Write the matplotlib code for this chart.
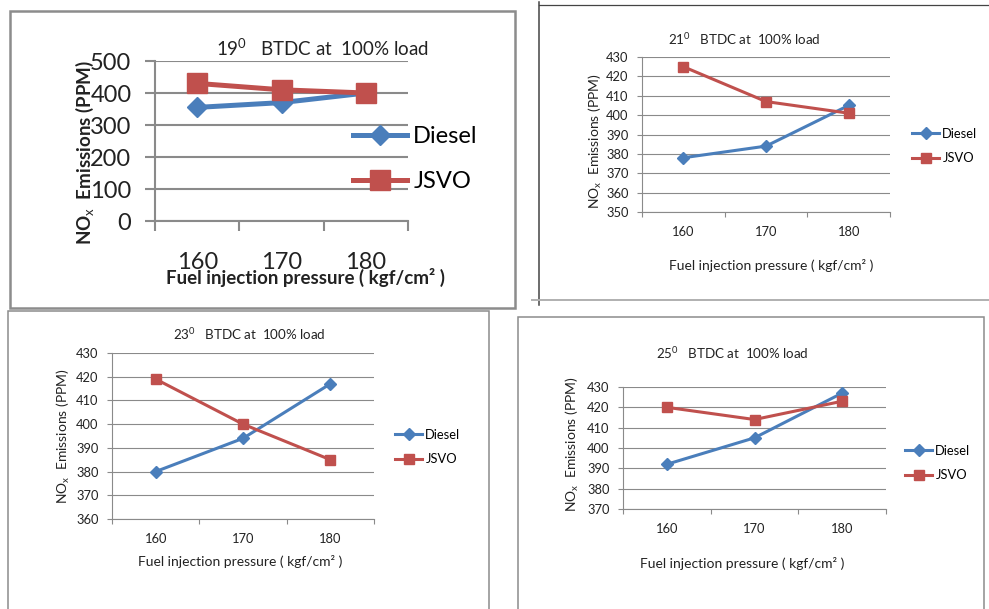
import matplotlib
matplotlib.use("Agg")
import matplotlib.pyplot as plt
from matplotlib.patches import Rectangle
from matplotlib.lines import Line2D

plt.rcParams["font.family"] = ["Lato", "DejaVu Sans"]
plt.rcParams["mathtext.fontset"] = "custom"
plt.rcParams["mathtext.rm"] = "Lato"
plt.rcParams["mathtext.it"] = "Lato:italic"
plt.rcParams["mathtext.bf"] = "Lato:bold"

pressures = ["160", "170", "180"]

diesel_19 = [355, 370, 400]
jsvo_19 = [430, 410, 400]
diesel_21 = [378, 384, 405]
jsvo_21 = [425, 407, 401]
diesel_23 = [380, 394, 417]
jsvo_23 = [419, 400, 385]
diesel_25 = [392, 405, 427]
jsvo_25 = [420, 414, 423]

titles = [r"19$^0$   BTDC at  100% load", r"21$^0$   BTDC at  100% load",
          r"23$^0$   BTDC at  100% load", r"25$^0$   BTDC at  100% load"]
ylabel = r"NO$_\mathrm{x}$  Emissions (PPM)"
xlabel = "Fuel injection pressure ( kgf/cm\u00b2 )"

BLUE = "#4a7ebb"
RED = "#c0504d"
GRID = "#8a8a8a"

W, H = 989, 609
fig = plt.figure(figsize=(W / 100, H / 100), dpi=100)


def fx(x):
    return x / W


def fy(y):
    return 1 - y / H


def rect_px(x0, y0, x1, y1):
    return [fx(x0), fy(y1), (x1 - x0) / W, (y1 - y0) / H]


def draw_panel(box, diesel, jsvo, yticks, title, title_xy, xlab_xy, ylab_xy,
               leg_xy, big=False):
    ax = fig.add_axes(rect_px(*box))
    xs = range(len(pressures))
    if big:
        lw, ms_d, ms_s, fs, tfs, lfs, glw = 3.6, 10, 14, 17, 13.5, 13.5, 1.5
        tick_len, xpad, ypad, lsp, hlen = 7, 22, 10, 1.0, 2.3
    else:
        lw, ms_d, ms_s, fs, tfs, lfs, glw = 2.2, 6, 7, 9.3, 9.6, 10, 0.8
        tick_len, xpad, ypad, lsp, hlen = 3.5, 10, 6, 0.95, 2.1
    ax.plot(xs, diesel, color=BLUE, lw=lw, marker="D", ms=ms_d,
            label="Diesel", clip_on=False, zorder=3)
    ax.plot(xs, jsvo, color=RED, lw=lw, marker="s", ms=ms_s,
            label="JSVO", clip_on=False, zorder=4)
    ax.set_xlim(-0.5, len(pressures) - 0.5)
    ax.set_ylim(yticks[0], yticks[-1])
    ax.set_yticks(yticks)
    ax.set_xticks([-0.5, 0.5, 1.5, 2.5])
    ax.set_xticklabels([])
    ax.set_xticks(list(xs), minor=True)
    ax.set_xticklabels(pressures, minor=True, fontsize=fs, color="#222222")
    ax.tick_params(axis="x", which="minor", length=0, pad=xpad)
    ax.tick_params(axis="x", which="major", length=tick_len, color=GRID, width=glw)
    ax.tick_params(axis="y", length=tick_len, color=GRID, width=glw, pad=ypad,
                   labelsize=fs, labelcolor="#222222")
    ax.yaxis.grid(True, color=GRID, lw=glw)
    ax.set_axisbelow(True)
    for s in ["top", "right"]:
        ax.spines[s].set_visible(False)
    for s in ["left", "bottom"]:
        ax.spines[s].set_color(GRID)
        ax.spines[s].set_linewidth(glw)
    weight = "bold" if big else "normal"
    fig.text(fx(title_xy[0]), fy(title_xy[1]), title, ha="center", va="center",
             fontsize=tfs, color="#222222")
    fig.text(fx(xlab_xy[0]), fy(xlab_xy[1]), xlabel, ha="center", va="center",
             fontsize=lfs, color="#222222", fontweight=weight)
    fig.text(fx(ylab_xy[0]), fy(ylab_xy[1]), ylabel, ha="center", va="center",
             rotation=90, fontsize=lfs, color="#222222", fontweight=weight)
    ax.legend(loc="center left", bbox_to_anchor=(fx(leg_xy[0]), fy(leg_xy[1])),
              bbox_transform=fig.transFigure, frameon=False, fontsize=fs,
              borderpad=0, borderaxespad=0, handlelength=hlen,
              handletextpad=0.25, labelspacing=lsp)
    return ax


draw_panel((155, 61, 408, 221), diesel_19, jsvo_19, [0, 100, 200, 300, 400, 500],
           titles[0], (322, 48), (306, 277), (85, 152), (353, 159), big=True)
draw_panel((642, 57, 890, 212), diesel_21, jsvo_21, list(range(350, 431, 10)),
           titles[1], (744, 39), (771, 266), (595, 141), (912, 146))
draw_panel((112, 353, 374, 519), diesel_23, jsvo_23, list(range(360, 431, 10)),
           titles[2], (249, 334), (240, 562), (63, 436), (395, 447))
draw_panel((623, 387, 886, 509), diesel_25, jsvo_25, list(range(370, 431, 10)),
           titles[3], (732, 353), (742, 563), (572, 444), (905, 463))

# panel frames
fig.patches.append(Rectangle((fx(10), fy(308)), (515 - 10) / W, (308 - 11) / H,
                             transform=fig.transFigure, fill=False,
                             edgecolor="#8c8c8c", lw=1.8))
fig.patches.append(Rectangle((fx(8), fy(615)), (489 - 8) / W, (615 - 311) / H,
                             transform=fig.transFigure, fill=False,
                             edgecolor="#8c8c8c", lw=1.1))
fig.patches.append(Rectangle((fx(518), fy(615)), (984 - 518) / W, (615 - 317) / H,
                             transform=fig.transFigure, fill=False,
                             edgecolor="#8c8c8c", lw=1.1))
fig.lines.append(Line2D([fx(539), fx(539)], [fy(2), fy(305)],
                        transform=fig.transFigure, color="#444444", lw=1.1))
fig.lines.append(Line2D([fx(539), fx(989)], [fy(5), fy(5)],
                        transform=fig.transFigure, color="#444444", lw=0.9))
fig.lines.append(Line2D([fx(532), fx(989)], [fy(300), fy(300)],
                        transform=fig.transFigure, color="#b0b0b0", lw=1.4))

fig.savefig("out.png", dpi=100)
